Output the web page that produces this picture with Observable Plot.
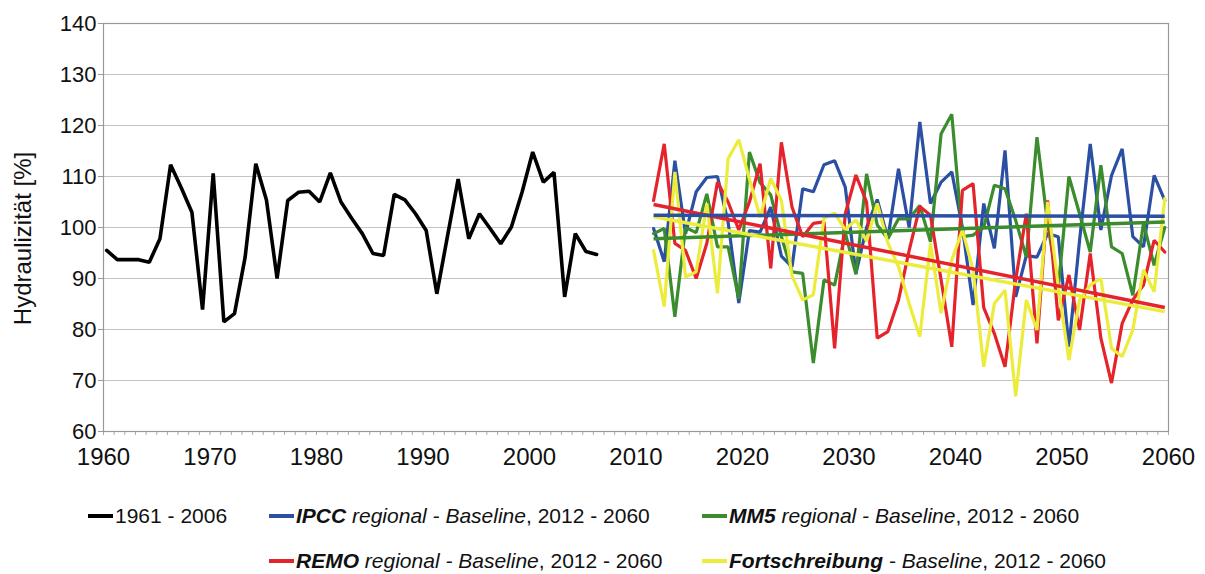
<!DOCTYPE html>
<html><head><meta charset="utf-8">
<script src="https://cdn.jsdelivr.net/npm/d3@7"></script>
<script src="https://cdn.jsdelivr.net/npm/@observablehq/plot@0.6"></script>
<style>
body{margin:0;background:#fff;font-family:"Liberation Sans",Arial,sans-serif;}
#wrap{position:relative;width:1205px;height:574px;background:#fff;}
#wrap svg{position:absolute;left:0;top:0;overflow:visible;}
.leg{position:absolute;display:flex;align-items:center;font-size:21px;color:#111;white-space:nowrap;line-height:1;}
.sw{display:inline-block;width:25px;height:4px;margin-right:2px;}
</style></head><body><div id="wrap"></div>
<script>
// ---- data ----
const histYears = d3.range(1960, 2007);
const histValues = [95.5,93.7,93.7,93.7,93.2,97.8,112.3,107.8,103,83.9,
  110.6,81.5,83.1,94.2,112.5,105.4,90,105.3,106.9,107.1,
  105,110.7,105,101.8,98.8,94.9,94.5,106.5,105.4,102.7,
  99.4,87,98.3,109.5,97.8,102.7,99.8,96.8,100.1,106.9,
  114.8,108.9,110.8,86.4,98.8,95.3,94.7];

const scenYears = d3.range(2012, 2061);
const ipccValues = [99.8,93.3,113.1,98.8,107,109.8,110,101,85.2,99.4,
  99.1,104,94.4,92.3,107.6,107,112.3,113.1,107.9,91,
  100,105.5,97.8,111.5,100,120.7,104.7,108.9,110.9,100,
  84.8,104.7,95.9,115.1,86.4,94.5,94.2,98.8,98.2,76.6,
  97.5,116.4,99.5,110.2,115.4,98.2,96.2,110.2,105.3];
const mm5Values = [98.8,99.8,82.5,100,99,106.6,96.2,96.2,86,114.8,
  108.8,106.4,98.2,91.3,91,73.4,89.7,88.7,99,90.8,
  110.5,100.5,97.8,101.7,101.7,104.3,97.2,118.4,122.2,98.2,
  98.5,100,108.3,107.6,101.4,94.2,117.7,100.8,88.1,110,
  102.7,95.2,112.2,96.2,94.9,86.7,100.8,92.6,100];
const remoValues = [105.3,116.4,96.9,95.5,90,96.9,108.9,105,99.5,105,
  112.5,92,116.7,104,98.2,100.8,101.1,76.3,102.7,110.3,
  105,78.3,79.6,85.8,95.5,104.1,102.4,89.7,76.6,107.3,
  108.6,84.3,79.2,72.7,89.7,102.7,77.3,105.3,81.8,90.7,
  79.9,94.9,78.3,69.5,81.2,85.8,88.7,97.5,95.2];
const fortValues = [95.5,84.5,110.9,90.3,91.3,104.7,87.1,113.5,117.2,109.5,
  102,109.6,105.3,90.5,85.8,86.8,101.8,102.8,99.6,101.5,
  97.3,104.7,97,92.3,85.1,78.6,96.9,83.2,93.6,99.5,
  91.7,72.7,85.1,87.7,66.9,85.8,79.9,105,88.4,74,
  85.8,88.7,90,76.3,74.7,79.9,91.7,87.4,105.7];

const seriesKeys = ["IPCC", "MM5", "REMO", "Fortschreibung"];
const seriesColors = ["#2b4fa3", "#3a8c2c", "#e4232b", "#ecec3c"];
const trendStart = [102.4, 97.8, 104.5, 102.1];
const trendEnd = [102.2, 101.1, 84.3, 83.5];

const yTicks = [60, 70, 80, 90, 100, 110, 120, 130, 140];
const xTickLabels = [1960, 1970, 1980, 1990, 2000, 2010, 2020, 2030, 2040, 2050, 2060];
const yTitle = "Hydraulizität [%]";
const histLabel = "1961 - 2006";
const legendItems = [
  {key: "IPCC", bold: "IPCC", ital: " regional - Baseline", rest: ", 2012 - 2060"},
  {key: "MM5", bold: "MM5", ital: " regional - Baseline", rest: ", 2012 - 2060"},
  {key: "REMO", bold: "REMO", ital: " regional - Baseline", rest: ", 2012 - 2060"},
  {key: "Fortschreibung", bold: "Fortschreibung", ital: " - Baseline", rest: ", 2012 - 2060"}
];

// ---- tables ----
const hist = histYears.map((year, i) => ({year, value: histValues[i]}));
const seriesValues = [ipccValues, mm5Values, remoValues, fortValues];
const scen = seriesKeys.flatMap((key, k) => scenYears.map((year, i) => ({key, year, value: seriesValues[k][i]})));
const trends = seriesKeys.map((key, k) => ({key, x1: scenYears[0], x2: scenYears[scenYears.length - 1], y1: trendStart[k], y2: trendEnd[k]}));
const trendOrder = ["MM5", "Fortschreibung", "REMO", "IPCC"].map(k => trends.find(t => t.key === k));

const chart = Plot.plot({
  width: 1205, height: 480,
  marginLeft: 103, marginRight: 37, marginTop: 23, marginBottom: 49,
  x: {domain: [1960, 2060]},
  y: {domain: [60, 140]},
  color: {domain: seriesKeys, range: seriesColors},
  style: {fontFamily: "'Liberation Sans', Arial, sans-serif", color: "#111", background: "transparent"},
  marks: [
    Plot.gridY(yTicks, {stroke: "#c4c4c4", strokeOpacity: 1, strokeWidth: 1}),
    Plot.axisY(yTicks, {tickSize: 5, tickPadding: 2, fontSize: 22, label: null, stroke: "#999"}),
    Plot.axisX(d3.range(1960, 2061), {tickSize: 4, tickPadding: 12, fontSize: 24, label: null, stroke: "#aaa",
      tickFormat: d => xTickLabels.includes(d) ? String(d) : ""}),
    Plot.text([yTitle], {frameAnchor: "left", textAnchor: "middle", dx: -80, dy: 11, rotate: -90, fontSize: 24, fill: "#111"}),
    Plot.line(hist, {x: d => d.year + 0.3, y: "value", stroke: "#000", strokeWidth: 3.6, strokeLinejoin: "miter"}),
    Plot.line(scen, {x: d => d.year - 0.35, y: "value", z: "key", stroke: "key", strokeWidth: 3.2, strokeLinejoin: "miter"}),
    Plot.link(trendOrder, {x1: d => d.x1 - 0.35, x2: d => d.x2 - 0.35, y1: "y1", y2: "y2", stroke: "key", strokeWidth: 3.5}),
    Plot.frame({stroke: "#999", strokeWidth: 1.2})
  ]
});

const wrap = document.getElementById("wrap");
wrap.appendChild(chart);

// ---- legend ----
function addItem(left, top, color, html) {
  const d = document.createElement("div");
  d.className = "leg";
  d.style.left = left + "px";
  d.style.top = top + "px";
  d.innerHTML = `<span class="sw" style="background:${color}"></span><span>${html}</span>`;
  wrap.appendChild(d);
}
const colorOf = k => seriesColors[seriesKeys.indexOf(k)];
const itemHtml = it => `<b><i>${it.bold}</i></b><i>${it.ital}</i>${it.rest}`;
const legendPos = [[269, 505], [702, 505], [269, 550], [702, 550]];
addItem(88, 505, "#000", histLabel);
legendItems.forEach((it, i) => addItem(legendPos[i][0], legendPos[i][1], colorOf(it.key), itemHtml(it)));
</script></body></html>
